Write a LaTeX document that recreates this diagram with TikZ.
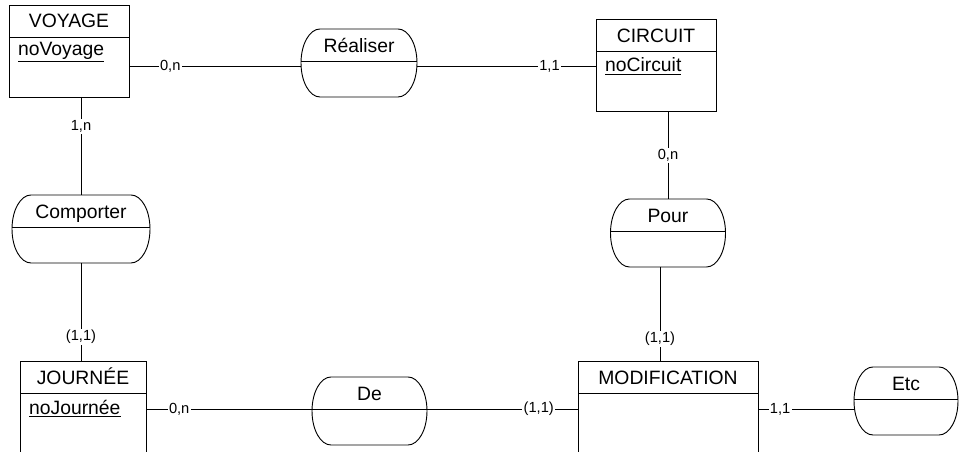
\documentclass[tikz,border=0pt]{standalone}
\usepackage{fontspec}
\setmainfont{Liberation Sans}
\usetikzlibrary{positioning}
\tikzset{
  enttitle/.style={rectangle, draw, minimum width=#1, minimum height=24pt,
                   inner sep=0pt, outer sep=0pt, text height=10.4pt, text depth=0pt,
                   font=\fontsize{14.5}{17}\selectfont},
  entbody/.style={rectangle, draw, minimum width=#1, minimum height=45pt,
                  inner sep=0pt, outer sep=0pt},
  attr/.style={anchor=west, inner sep=0pt, font=\fontsize{14.5}{17}\selectfont},
  assoc/.style={rectangle, minimum width=#1, text height=17.5pt, text depth=33.5pt,
                inner sep=0pt, outer sep=0pt, font=\fontsize{14.5}{17}\selectfont},
  card/.style={fill=white, inner sep=1pt, font=\fontsize{11}{13}\selectfont},
}

\begin{document}
\begin{tikzpicture}[x=0.75pt, y=0.75pt, line width=0.7pt]
  \useasboundingbox (0,0) rectangle (959,452);
  \coordinate (toprow) at (0,386);
  \coordinate (botrow) at (0,43);

  % Entities
  \node[enttitle=90pt] (voy) at (69,431) {VOYAGE};
  \node[entbody=90pt, below=0pt of voy] (voyb) {};
  \node[attr] (novoy) at ([xshift=6.5pt, yshift=-11.5pt]voyb.north west) {\underline{noVoyage}};

  \node[enttitle=90pt] (circ) at (656,416.5) {CIRCUIT};
  \node[entbody=90pt, below=0pt of circ] (circb) {};
  \node[attr] (nocirc) at ([xshift=6.5pt, yshift=-11pt]circb.north west) {\underline{noCircuit}};

  \node[enttitle=94.5pt] (jour) at (83,74.5) {JOURNÉE};
  \node[entbody=94.5pt, minimum height=50pt, below=0pt of jour] (jourb) {};
  \node[attr] (nojour) at ([xshift=6.5pt, yshift=-11.5pt]jourb.north west) {\underline{noJournée}};

  \node[enttitle=135pt] (modif) at (668,74.5) {MODIFICATION};
  \node[entbody=135pt, minimum height=50pt, below=0pt of modif] (modifb) {};

  % Associations
  \node[assoc=87pt] (real) at (359,389) {Réaliser};
  \node[assoc=103.5pt] (comp) at (81,223) {Comporter};
  \node[assoc=86.25pt] (pour) at (668,219) {Pour};
  \node[assoc=86.25pt] (de) at (369.5,41) {De};
  \node[assoc=78pt] (etc) at (906,51) {Etc};

  \foreach \a in {real,comp,pour,de,etc}{
    \draw ([xshift=14.25pt]\a.north west) -- ([xshift=-14.25pt]\a.north east)
      arc[start angle=90, end angle=-90, x radius=14.25pt, y radius=25.5pt]
      -- ([xshift=14.25pt]\a.south west)
      arc[start angle=270, end angle=90, x radius=14.25pt, y radius=25.5pt] -- cycle;
    \draw ([yshift=1.5pt]\a.west) -- ([yshift=1.5pt]\a.east);
  }

  % Links
  \draw (voyb.east |- toprow) -- node[card, pos=.24]{0,n} (real.west |- toprow);
  \draw (real.east |- toprow) -- node[card, pos=.74]{1,1} (circb.west |- toprow);
  \draw (voyb.south -| comp.north) -- node[card, pos=.3]{1,n} (comp.north);
  \draw (comp.south) -- node[card, pos=.75]{(1,1)} (jour.north -| comp.south);
  \draw (circb.south -| pour.north) -- node[card, pos=.5]{0,n} (pour.north);
  \draw ([xshift=-6pt]pour.south) -- node[card, pos=.76]{(1,1)}
    ([xshift=-6pt]pour.south |- modif.north);
  \draw (jourb.east |- botrow) -- node[card, pos=.2]{0,n} (de.west |- botrow);
  \draw (de.east |- botrow) -- node[card, pos=.74]{(1,1)} (modifb.west |- botrow);
  \draw (modifb.east |- botrow) -- node[card, pos=.23]{1,1} (etc.west |- botrow);
\end{tikzpicture}
\end{document}
